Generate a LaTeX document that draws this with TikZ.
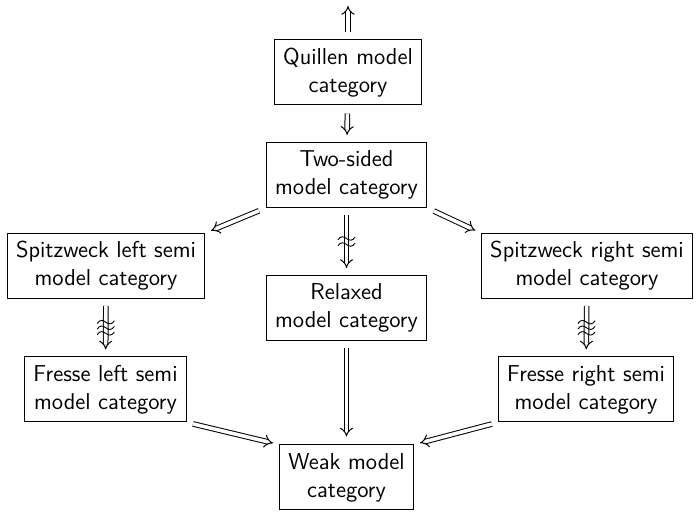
\documentclass[tikz,border=0pt]{standalone}
\usepackage{fontspec}
\usetikzlibrary{arrows.meta}
\begin{document}
\begin{tikzpicture}[x=0.5pt,y=-0.5pt,
  box/.style={draw,line width=0.5pt,align=center,inner xsep=4.5pt,inner ysep=2pt,minimum height=32.5pt,font=\fontsize{11.5}{14}\selectfont\sffamily},
  imp/.style={double,line width=0.5pt,double distance=1.8pt,-{Implies[scale=1.25]}},
  tld/.pic={\draw[line width=0.45pt] (-4.3pt,-0.7pt) .. controls (-3pt,1.4pt) and (-1.4pt,1.1pt) .. (0pt,0pt) .. controls (1.4pt,-1.1pt) and (3pt,-1.4pt) .. (4.3pt,0.7pt);}
]
\useasboundingbox (0,0) rectangle (698,512);
\node[box] (Q) at (348,72.5) {Quillen model\\category};
\node[box] (TS) at (346.5,175) {Two-sided\\model category};
\node[box] (SL) at (106,266) {Spitzweck left semi\\model category};
\node[box] (RX) at (346.5,308) {Relaxed\\model category};
\node[box] (SR) at (587,266) {Spitzweck right semi\\model category};
\node[box] (FL) at (105.5,389.5) {Fresse left semi\\model category};
\node[box] (FR) at (586,389.5) {Fresse right semi\\model category};
\node[box] (W) at (346.5,477.5) {Weak model\\category};
\coordinate (top) at (348,6);

\draw[imp,shorten <=3.5pt] (Q) -- (top);
\draw[imp,shorten <=4pt,shorten >=3.5pt] (Q) -- (TS);
\draw[imp,shorten <=3.5pt,shorten >=3pt] (TS.south west) -- (SL.north east);
\draw[imp,shorten <=3.5pt,shorten >=3pt] (TS.south east) -- (SR.north west);
\draw[imp,shorten <=3.5pt,shorten >=3.5pt] (TS) -- (RX) coordinate[midway] (m1);
\draw[imp,shorten <=3.5pt,shorten >=3.5pt] (SL) -- (FL) coordinate[midway] (m2);
\draw[imp,shorten <=3.5pt,shorten >=3.5pt] (SR) -- (FR) coordinate[midway] (m3);
\draw[imp,shorten <=3.5pt,shorten >=4pt] (RX) -- (W);
\draw[imp,shorten <=3pt,shorten >=3pt] (FL.south east) -- (W.north west);
\draw[imp,shorten <=3pt,shorten >=3pt] (FR.south west) -- (W.north east);

\pic at ([yshift=1.5pt]m1) {tld};
\pic at ([yshift=-1.5pt]m1) {tld};
\foreach \m in {m2,m3}{
  \pic at ([yshift=2.8pt]\m) {tld};
  \pic at (\m) {tld};
  \pic at ([yshift=-2.8pt]\m) {tld};
}
\end{tikzpicture}
\end{document}
